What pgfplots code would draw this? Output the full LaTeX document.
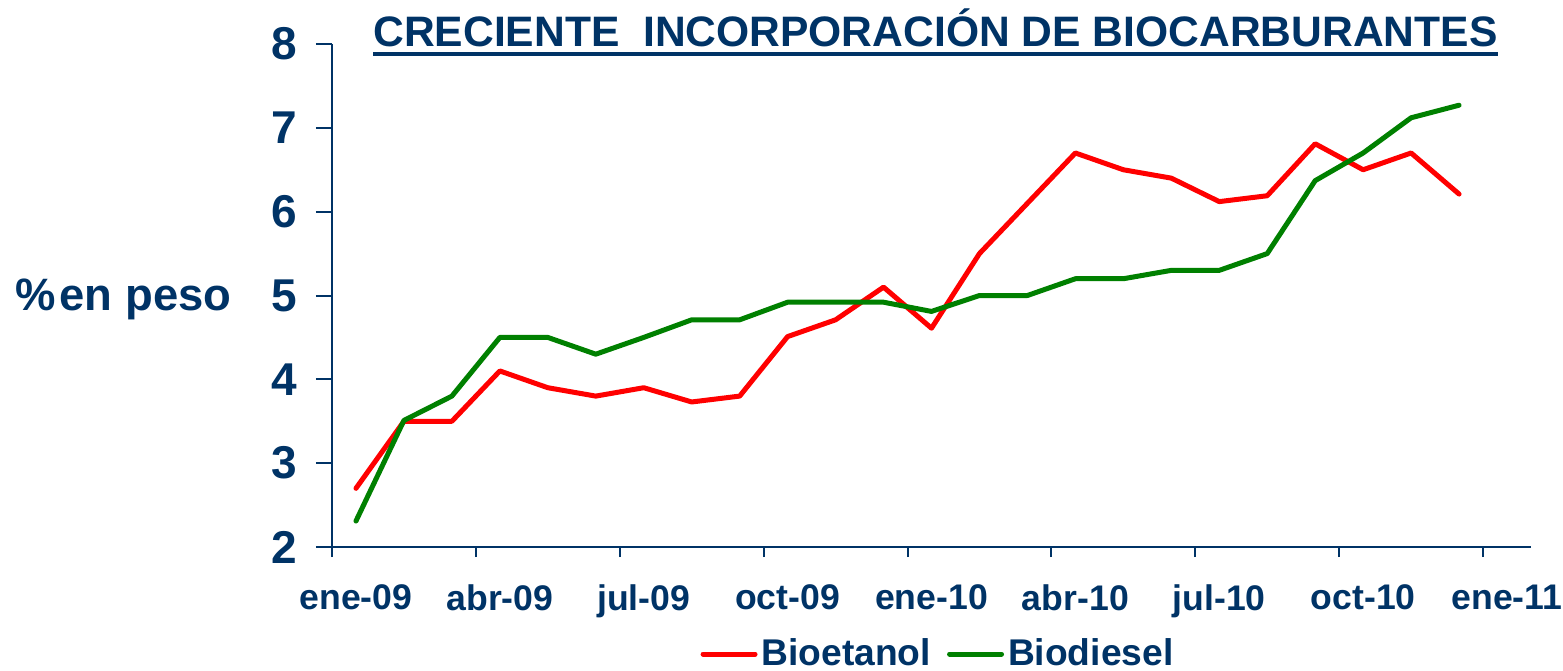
\documentclass[border=0pt]{standalone}
\usepackage{pgfplots}
\pgfplotsset{compat=1.18}
\usepackage{fontspec}
\setmainfont{Liberation Sans}
\definecolor{navy}{RGB}{0,51,102}
\definecolor{bioet}{RGB}{255,0,0}
\definecolor{biodi}{RGB}{0,128,0}
\newcommand\ulbox[1]{\leavevmode\vtop{\hbox{#1}\kern 3pt\hrule height 2pt}}
\pgfplotstableread{
x bioetanol biodiesel
0.5 2.70 2.31
1.5 3.50 3.51
2.5 3.50 3.80
3.5 4.10 4.50
4.5 3.90 4.50
5.5 3.80 4.30
6.5 3.90 4.50
7.5 3.73 4.71
8.5 3.80 4.71
9.5 4.51 4.92
10.5 4.71 4.92
11.5 5.10 4.92
12.5 4.61 4.81
13.5 5.50 5.00
14.5 6.10 5.00
15.5 6.70 5.20
16.5 6.50 5.20
17.5 6.40 5.30
18.5 6.12 5.30
19.5 6.19 5.50
20.5 6.81 6.37
21.5 6.50 6.70
22.5 6.70 7.12
23.5 6.21 7.27
}\datatable
\begin{document}
\begin{tikzpicture}
\useasboundingbox (0,0) rectangle (781.5pt,335pt);
\begin{axis}[
  at={(166pt,61.5pt)}, anchor=south west,
  scale only axis, width=599.5pt, height=251.5pt,
  xmin=0, xmax=25, ymin=2, ymax=8,
  axis x line*=bottom, axis y line*=left,
  axis line style={navy, line width=1pt},
  tick align=outside,
  every tick/.style={navy, line width=1pt},
  xtick={0,3,6,9,12,15,18,21,24},
  xticklabels={ene-09,abr-09,jul-09,oct-09,ene-10,abr-10,jul-10,oct-10,ene-11},
  ytick={2,3,4,5,6,7,8},
  xtick style={/pgfplots/major tick length=5pt},
  ytick style={/pgfplots/major tick length=8pt},
  xticklabel style={font=\fontsize{17.8}{21}\selectfont\bfseries, text=navy, anchor=north, xshift=12pt, yshift=-11pt},
  yticklabel style={font=\fontsize{23}{27}\selectfont\bfseries, text=navy, anchor=east, xshift=-9.5pt},
  /pgf/number format/assume math mode=true,
  title={\ulbox{CRECIENTE\ \ INCORPORACIÓN DE BIOCARBURANTES}},
  title style={font=\fontsize{21.3}{25}\selectfont\bfseries, text=navy, at={(rel axis cs:0.5,1)}, anchor=base, yshift=-7pt, xshift=2pt, inner sep=0pt},
  ylabel={\%\kern2pt en peso},
  ylabel style={font=\fontsize{22.7}{27}\selectfont\bfseries, text=navy, rotate=-90, at={(rel axis cs:0,0.5)}, anchor=west, xshift=-158.5pt, yshift=-2pt, inner sep=0pt},
  legend columns=2,
  legend style={draw=none, fill=none, at={(rel axis cs:0.5,0)}, anchor=center, yshift=-53.5pt, xshift=3.75pt,
    font=\fontsize{18.6}{22}\selectfont\bfseries, text=navy,
    /tikz/every even column/.append style={column sep=6pt}},
  legend image code/.code={\draw[#1, line cap=round] (0pt,0pt) -- (26pt,0pt);},
  clip=false,
]
\addplot[bioet, line width=2.5pt, line join=round, line cap=round] table[x=x, y=bioetanol] {\datatable};
\addlegendentry{Bioetanol}
\addplot[biodi, line width=2.5pt, line join=round, line cap=round] table[x=x, y=biodiesel] {\datatable};
\addlegendentry{Biodiesel}
\end{axis}
\end{tikzpicture}
\end{document}
